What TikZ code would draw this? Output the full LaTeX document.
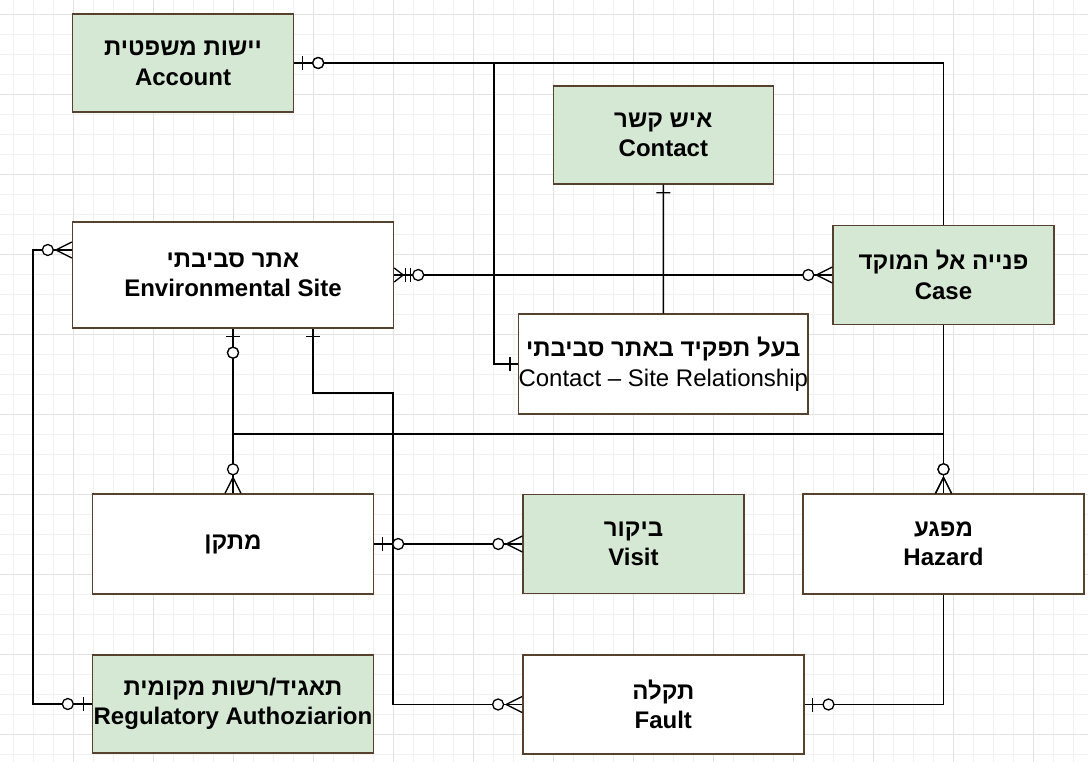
\documentclass[tikz,border=0pt]{standalone}
\usepackage{fontspec}
\setmainfont{Liberation Sans}
\newfontfamily\hebfont[Script=Hebrew]{Liberation Sans}
\usetikzlibrary{decorations.markings}
\TeXXeTstate=1
\definecolor{boxgreen}{HTML}{D5E8D4}
\definecolor{boxline}{RGB}{85,65,45}
\definecolor{gridmajor}{HTML}{E2E2E2}
\definecolor{gridminor}{HTML}{F1F1F1}
\newcommand{\heb}[1]{{\hebfont\beginR #1\endR}}

\begin{document}
\begin{tikzpicture}[x=1pt,y=-1pt,
  entity/.style={draw=boxline,line width=1.4pt,fill=white,inner sep=0pt,align=center,
    font=\bfseries\fontsize{24}{29.5}\selectfont},
  lookup/.style={entity,fill=boxgreen},
  rel/.style={line width=1.4pt},
  mk/.style={line width=1.3pt},
  one start/.style={postaction={decorate,decoration={markings,
    mark=at position 8pt with {\draw[mk] (0pt,-7pt) -- (0pt,7pt);}}}},
  one end/.style={postaction={decorate,decoration={markings,
    mark=at position -8pt with {\draw[mk] (0pt,-7pt) -- (0pt,7pt);}}}},
  zone start/.style={postaction={decorate,decoration={markings,
    mark=at position 8pt with {\draw[mk] (0pt,-7pt) -- (0pt,7pt);},
    mark=at position 24pt with {\draw[mk,fill=white] (0pt,0pt) circle (5.5pt);}}}},
  zone end/.style={postaction={decorate,decoration={markings,
    mark=at position -24pt with {\draw[mk,fill=white] (0pt,0pt) circle (5.5pt);},
    mark=at position -8pt with {\draw[mk] (0pt,-7pt) -- (0pt,7pt);}}}},
  zmany start/.style={postaction={decorate,decoration={markings,
    mark=at position 0 with {\draw[mk] (16pt,0pt) -- (0pt,8pt) (16pt,0pt) -- (0pt,-8pt);},
    mark=at position 24pt with {\draw[mk,fill=white] (0pt,0pt) circle (5.5pt);}}}},
  zmany end/.style={postaction={decorate,decoration={markings,
    mark=at position -24pt with {\draw[mk,fill=white] (0pt,0pt) circle (5.5pt);},
    mark=at position 1 with {\draw[mk] (-16pt,0pt) -- (0pt,8pt) (-16pt,0pt) -- (0pt,-8pt);}}}},
  mixed start/.style={postaction={decorate,decoration={markings,
    mark=at position 0 with {\draw[mk] (9pt,0pt) -- (0pt,7pt) (9pt,0pt) -- (0pt,-7pt);},
    mark=at position 11pt with {\draw[mk] (0pt,-7pt) -- (0pt,7pt);},
    mark=at position 16pt with {\draw[mk] (0pt,-7pt) -- (0pt,7pt);},
    mark=at position 24pt with {\draw[mk,fill=white] (0pt,0pt) circle (5.5pt);}}}}
]
\fill[white] (0,0) rectangle (1088,762);
\useasboundingbox (0,0) rectangle (1088,762);
% background grid
\foreach \gx in {13.5,33.5,...,1093.5} \draw[gridminor] (\gx,0) -- (\gx,762);
\foreach \gy in {14,34,...,754} \draw[gridminor] (0,\gy) -- (1088,\gy);
\foreach \gx in {73.5,153.5,...,1033.5} \draw[gridmajor] (\gx,0) -- (\gx,762);
\foreach \gy in {14,94,...,734} \draw[gridmajor] (0,\gy) -- (1088,\gy);

% entities
\node[lookup,minimum width=221pt,minimum height=98pt] (account) at (183,63) {\heb{יישות משפטית}\\Account};
\node[lookup,minimum width=220pt,minimum height=98pt] (contact) at (663.4,135) {\heb{איש קשר}\\Contact};
\node[entity,minimum width=321pt,minimum height=106pt] (site) at (233,275) {\heb{אתר סביבתי}\\Environmental Site};
\node[lookup,minimum width=221pt,minimum height=99pt] (case) at (943.5,275) {\heb{פנייה אל המוקד}\\Case};
\node[entity,minimum width=281pt,minimum height=100pt] (link) at (663.3,364) {\heb{בעל תפקיד באתר סביבתי}\\{\mdseries Contact – Site Relationship}};
\node[entity,minimum width=281pt,minimum height=100pt] (facility) at (233,544) {\heb{מתקן}};
\node[lookup,minimum width=281pt,minimum height=98pt] (permit) at (233,704) {\heb{תאגיד/רשות מקומית}\\Regulatory Authoziarion};
\node[lookup,minimum width=221pt,minimum height=99pt] (visit) at (633.5,544) {\heb{ביקור}\\Visit};
\node[entity,minimum width=281pt,minimum height=100pt] (hazard) at (943.5,544) {\heb{מפגע}\\Hazard};
\node[entity,minimum width=281pt,minimum height=99pt] (fault) at (663.3,704.5) {\heb{תקלה}\\Fault};

% bends
\coordinate (acctdrop) at (494,0);
\coordinate (leftrail) at (33,0);
\coordinate (midrail) at (0,434);
\coordinate (faultx) at (313,0);
\coordinate (faultbend) at (393,393);

% relations
\draw[rel,zone start] (account.east) -| (case.north);
\draw[rel,zone start,one end] (account.east) -| (acctdrop |- link.west) -- (link.west);
\draw[rel,one start] (contact.south) -- (link.north);
\draw[rel,line width=2.4pt,mixed start,zmany end] (site.east) -- (case.west);
\draw[rel,zmany start,zone end] ([yshift=25pt]site.west) -| (leftrail |- permit.west) -- (permit.west);
\draw[rel,zone start,zmany end] (site.south) -- (facility.north);
\draw[rel,zone start,zmany end] (site.south) -- (site.south |- midrail) -| (hazard.north);
\draw[rel,zmany end] (case.south) -- (hazard.north);
\draw[rel,one start,zmany end] (faultx |- site.south) |- (faultbend) |- (fault.west);
\draw[rel,zone start,zmany end] (facility.east) -- (facility.east -| visit.west);
\draw[rel,zone end] (hazard.south) |- (fault.east);
\end{tikzpicture}
\end{document}
